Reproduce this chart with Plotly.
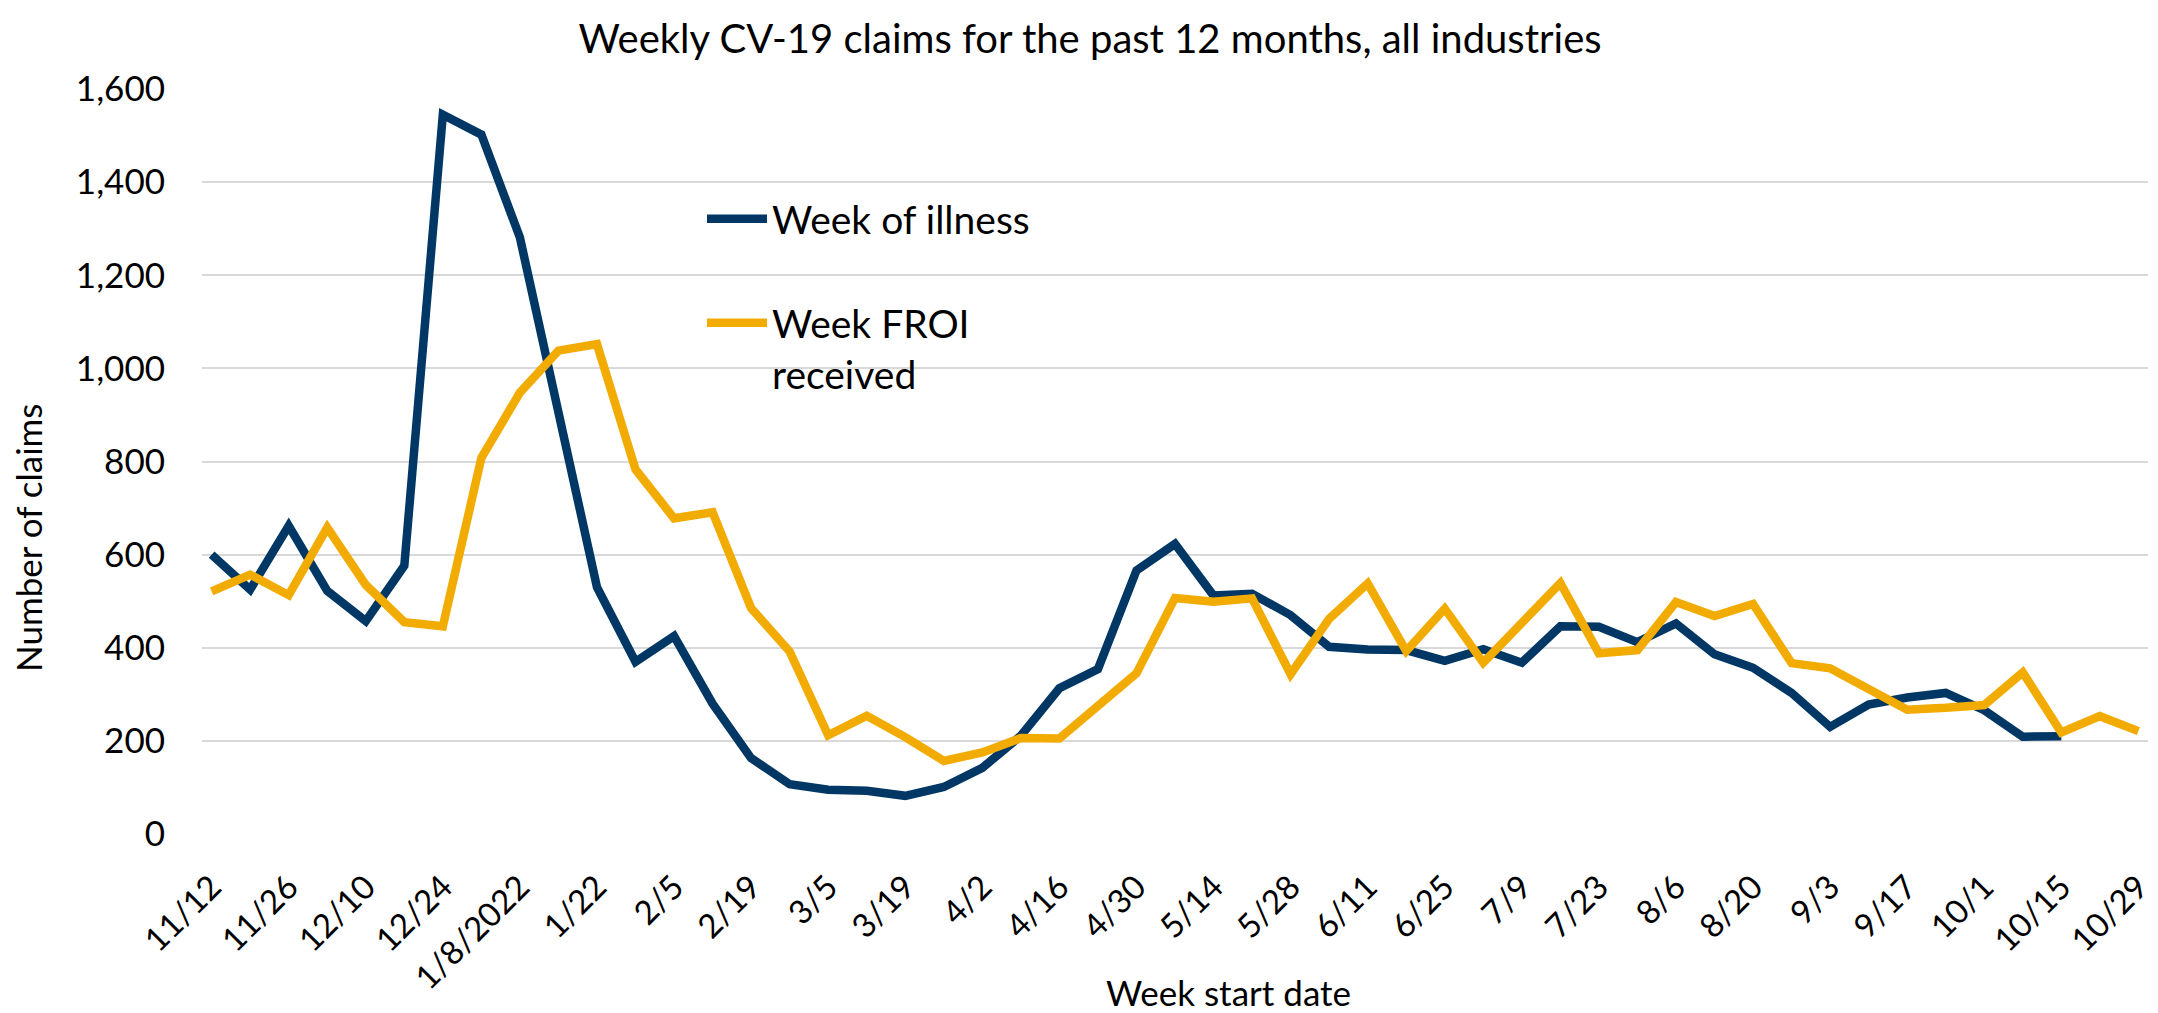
import plotly.graph_objects as go

weeks = ["11/12", "11/19", "11/26", "12/3", "12/10", "12/17", "12/24", "12/31",
         "1/8/2022", "1/15", "1/22", "1/29", "2/5", "2/12", "2/19", "2/26",
         "3/5", "3/12", "3/19", "3/26", "4/2", "4/9", "4/16", "4/23",
         "4/30", "5/7", "5/14", "5/21", "5/28", "6/4", "6/11", "6/18",
         "6/25", "7/2", "7/9", "7/16", "7/23", "7/30", "8/6", "8/13",
         "8/20", "8/27", "9/3", "9/10", "9/17", "9/24", "10/1", "10/8",
         "10/15", "10/22", "10/29"]

week_of_illness = [600, 525, 662, 522, 457, 576, 1545, 1502,
                   1281, 912, 530, 370, 425, 280, 163, 107,
                   95, 93, 82, 101, 142, 211, 313, 354,
                   566, 623, 512, 516, 470, 402, 396, 395,
                   372, 397, 368, 446, 445, 412, 452, 386,
                   357, 303, 230, 278, 293, 303, 266, 209,
                   210]

week_froi_received = [521, 557, 513, 658, 535, 455, 446, 808,
                      948, 1038, 1052, 783, 678, 691, 485, 392,
                      212, 254, 208, 157, 175, 206, 205, 273,
                      345, 507, 499, 506, 343, 462, 538, 393,
                      484, 368, 452, 539, 388, 395, 498, 468,
                      494, 367, 356, 311, 267, 271, 277, 347,
                      218, 253, 221]

tick_labels = weeks[::2]
y_ticks = [0, 200, 400, 600, 800, 1000, 1200, 1400, 1600]

FONT = "Lato"
BLUE = "#013764"
GOLD = "#F2AB00"

W, H = 2158, 1013
L, R, T, B = 194, 18, 81, 187
plot_w = W - L - R
plot_h = H - T - B

def px_x(px):
    return (px - L) / plot_w

def px_y(py):
    return (H - B - py) / plot_h

fig = go.Figure()
fig.add_trace(go.Scatter(
    x=weeks[:len(week_of_illness)], y=week_of_illness, mode="lines",
    name="Week of illness", line=dict(color=BLUE, width=8.5), legend="legend"))
fig.add_trace(go.Scatter(
    x=weeks, y=week_froi_received, mode="lines",
    name="Week FROI<br>received", line=dict(color=GOLD, width=8.5), legend="legend2"))

fig.update_layout(
    width=W, height=H,
    margin=dict(l=L, r=R, t=T, b=B),
    paper_bgcolor="white", plot_bgcolor="white",
    font=dict(family=FONT, size=34, color="#000000"),
    title=dict(text="Weekly CV-19 claims for the past 12 months, all industries",
               x=1082 / W, xref="container", xanchor="center",
               y=1 - 31 / H, yref="container", yanchor="middle",
               font=dict(family=FONT, size=40, color="#000000")),
    xaxis=dict(type="category", categoryorder="array", categoryarray=weeks,
               range=[-0.25, len(weeks) - 0.75],
               tickmode="array", tickvals=tick_labels, ticktext=tick_labels,
               tickangle=-45, showgrid=False, showline=False, zeroline=False,
               ticks="", ticklabelstandoff=26,
               tickfont=dict(family=FONT, size=33)),
    yaxis=dict(range=[0, 1600], tickmode="array", tickvals=y_ticks,
               tickformat=",", showgrid=True, gridcolor="#D9D9D9", gridwidth=2,
               zeroline=False, showline=False, ticks="", ticklabelstandoff=36,
               tickfont=dict(family=FONT, size=35)),
    legend=dict(x=px_x(694), y=px_y(211), xanchor="left", yanchor="middle",
                bgcolor="rgba(0,0,0,0)", font=dict(family=FONT, size=39),
                itemwidth=60),
    legend2=dict(x=px_x(694), y=px_y(283), xanchor="left", yanchor="top",
                 valign="top",
                 bgcolor="rgba(0,0,0,0)", font=dict(family=FONT, size=39),
                 itemwidth=60),
    showlegend=True,
    annotations=[
        dict(text="Number of claims", textangle=-90, showarrow=False,
             xref="paper", yref="paper", x=px_x(20), y=px_y(530),
             xanchor="center", yanchor="middle",
             font=dict(family=FONT, size=35)),
        dict(text="Week start date", showarrow=False,
             xref="paper", yref="paper", x=px_x(1220), y=px_y(984),
             xanchor="center", yanchor="middle",
             font=dict(family=FONT, size=35)),
    ],
)

fig.write_html("out.html")
